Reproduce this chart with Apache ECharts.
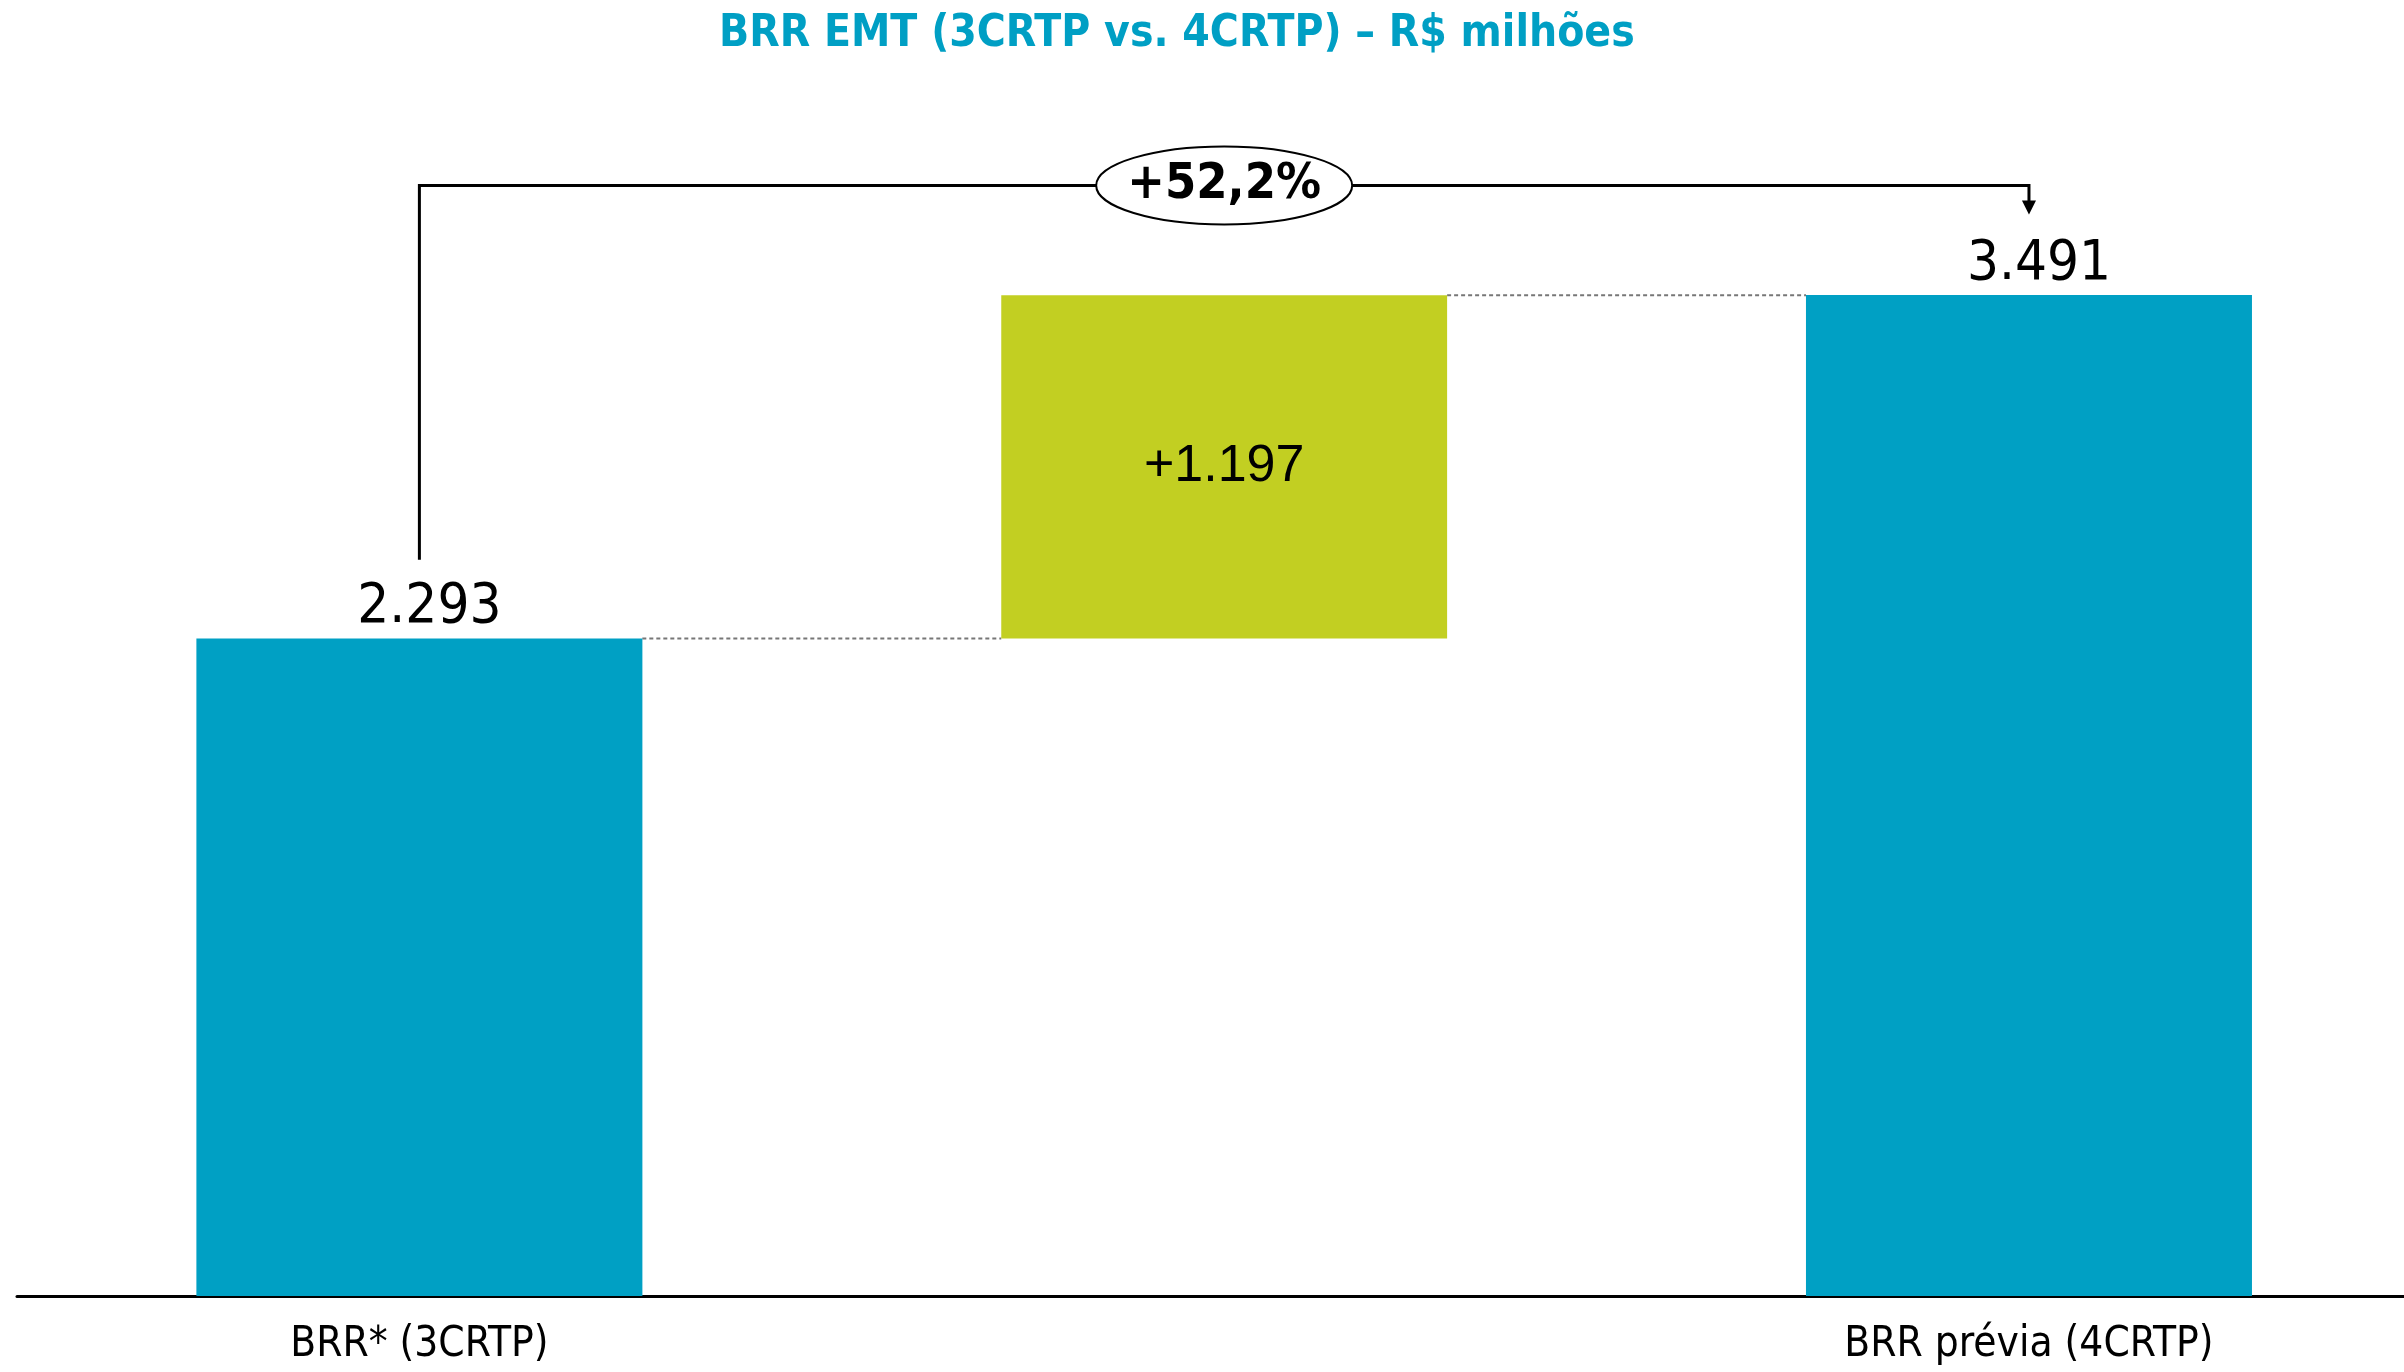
<!DOCTYPE html>
<html><head><meta charset="utf-8">
<script src="https://cdn.jsdelivr.net/npm/echarts@6/dist/echarts.min.js"></script>
<style>html,body{margin:0;padding:0;background:#fff}#c{width:2404px;height:1372px}</style>
</head><body><div id="c"></div>
<script>
const categories = ['BRR* (3CRTP)', '', 'BRR prévia (4CRTP)'];
const baseValues = [0, 2293, 0];
const barValues = [2293, 1197, 3491];
const barLabels = ['2.293', '+1.197', '3.491'];
const changeLabel = '+52,2%';
const titleText = 'BRR EMT (3CRTP vs. 4CRTP) – R$ milhões';

const TEAL = '#00A0C4', GREEN = '#C2CF22';
const chart = echarts.init(document.getElementById('c'));
const narrow = '"DejaVu Sans Condensed", "DejaVu Sans", sans-serif';
const BAR_FRAC = 0.554;

const totalIdx = [0, 2];
const stepIdx = [1];

chart.setOption({
  animation: false,
  title: {
    text: titleText, left: 714, top: 8,
    textStyle: {fontFamily: narrow, fontWeight: 'bold', fontSize: 44, color: '#009FC4'}
  },
  grid: {left: 17, right: 0, top: 149, bottom: 76, containLabel: false},
  xAxis: {
    type: 'value', min: -0.5, max: 2.466,
    splitLine: {show: false},
    axisLine: {onZero: false, lineStyle: {color: '#000', width: 3}},
    axisTick: {show: false},
    axisLabel: {customValues: [0, 1, 2], formatter: v => categories[Math.round(v)] || '',
      fontFamily: narrow, fontSize: 42, color: '#000', margin: 28}
  },
  yAxis: {type: 'value', min: 0, max: 4000, show: false, splitLine: {show: false}},
  series: [
    {type: 'bar', barWidth: 446,
     data: totalIdx.map(i => ({
       value: [i, barValues[i]],
       itemStyle: {color: TEAL},
       label: {show: true, position: 'top', distance: 3, offset: [10, 0], formatter: barLabels[i],
               fontFamily: narrow, fontSize: 56, color: '#000'}
     }))},
    {type: 'custom',
     data: stepIdx.map(i => [i, baseValues[i], baseValues[i] + barValues[i]]),
     renderItem: function (params, api) {
       const lo = api.coord([api.value(0), api.value(1)]);
       const hi = api.coord([api.value(0), api.value(2)]);
       const w = api.size([1, 0])[0] * BAR_FRAC;
       return {
         type: 'rect',
         shape: {x: lo[0] - w / 2, y: hi[1], width: w, height: lo[1] - hi[1]},
         style: {fill: GREEN},
         textContent: {style: {text: barLabels[stepIdx[params.dataIndex]], fontFamily: '"Liberation Sans", sans-serif', fontSize: 52, fill: '#000'}},
         textConfig: {position: 'inside'}
       };
     }}
  ]
});

function px(i, v) { return chart.convertToPixel({xAxisIndex: 0, yAxisIndex: 0}, [i, v]); }
const halfW = (px(1, 0)[0] - px(0, 0)[0]) * BAR_FRAC / 2;
const total1 = barValues[0];
const total2 = baseValues[1] + barValues[1];
const p0 = px(0, total1), p1 = px(1, total1), p1t = px(1, total2), p2 = px(2, total2);
const bracketY = px(0, 3873)[1];
const leftBottomY = px(0, 2568)[1];
const arrowTipY = px(2, 3772)[1];
const x0 = px(0, 0)[0], x2 = px(2, 0)[0];
const midX = px(1, 0)[0];
const dash = {stroke: '#777', lineWidth: 2, lineDash: [4, 3]};
chart.setOption({
  graphic: [
    {type: 'line', shape: {x1: p0[0] + halfW, y1: p0[1], x2: p1[0] - halfW, y2: p1[1]}, style: dash},
    {type: 'line', shape: {x1: p1t[0] + halfW, y1: p1t[1], x2: p2[0] - halfW, y2: p2[1]}, style: dash},
    {type: 'polyline', shape: {points: [[x0, leftBottomY], [x0, bracketY], [x2, bracketY], [x2, arrowTipY - 12]]},
     style: {stroke: '#000', lineWidth: 3, fill: null}},
    {type: 'polygon', shape: {points: [[x2 - 7, arrowTipY - 14], [x2 + 7, arrowTipY - 14], [x2, arrowTipY]]},
     style: {fill: '#000'}},
    {type: 'ellipse', shape: {cx: midX, cy: bracketY, rx: 128, ry: 39},
     style: {fill: '#fff', stroke: '#000', lineWidth: 2}},
    {type: 'text', x: midX, y: bracketY, style: {text: changeLabel, fontFamily: narrow, fontWeight: 'bold', fontSize: 50, fill: '#000', align: 'center', verticalAlign: 'middle'}}
  ]
});
</script></body></html>
